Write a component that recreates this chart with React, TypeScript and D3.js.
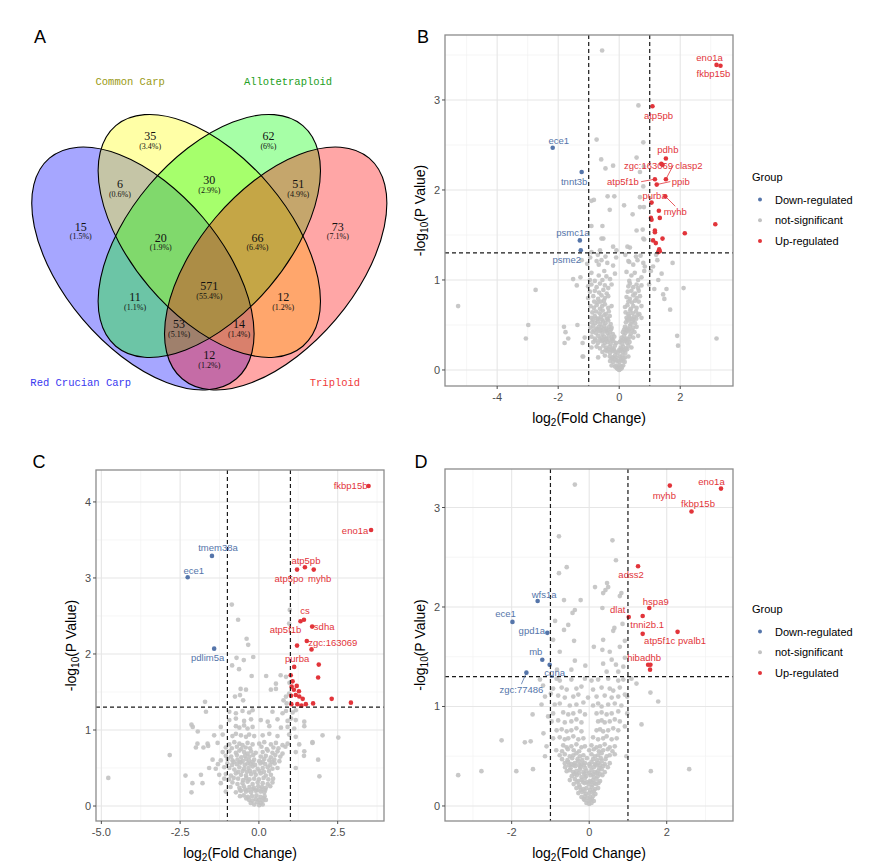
import * as d3 from "d3";

type Pt = [number, number];

const W = 881;
const H = 864;

// ---------------- Panel A: four-set Venn ----------------
const vennSets = ["Red Crucian Carp", "Common Carp", "Allotetraploid", "Triploid"];
const vennFills = ["#0000ff", "#ffff00", "#00ff00", "#ff0000"];
const vennSetColors = ["#3838f0", "#9a9a14", "#23a023", "#f03a3a"];
const vennCounts = [35, 62, 6, 30, 51, 15, 20, 66, 73, 571, 11, 12, 53, 14, 12];
const vennPercents = [
  "3.4%", "6%", "0.6%", "2.9%", "4.9%", "1.5%", "1.9%", "6.4%",
  "7.1%", "55.4%", "1.1%", "1.2%", "5.1%", "1.4%", "1.2%",
];

// ellipse geometry in unit space
const VENN_ELL = [
  { cx: 0.3373, cy: 0.4763, rot: 49.7 },
  { cx: 0.5, cy: 0.556, rot: 49.7 },
  { cx: 0.5, cy: 0.556, rot: -49.7 },
  { cx: 0.6627, cy: 0.4763, rot: -49.7 },
];
const VENN_A = 0.3544;
const VENN_B = 0.1931;
const VENN_REGION_POS: Pt[] = [
  [0.355, 0.801], [0.645, 0.801], [0.281, 0.683], [0.5, 0.692], [0.718, 0.683],
  [0.185, 0.579], [0.381, 0.552], [0.618, 0.552], [0.815, 0.579], [0.5, 0.434],
  [0.318, 0.407], [0.681, 0.407], [0.426, 0.339], [0.573, 0.339], [0.5, 0.263],
];
const VENN_SET_POS: Pt[] = [[0.185, 0.196], [0.306, 0.933], [0.693, 0.933], [0.808, 0.196]];

// ---------------- Panel B ----------------
const bGray: Pt[] = [
  [-5.28, 0.71], [-2.74, 0.89], [-2.98, 0.5], [-3.06, 0.35], [-1.81, 0.48], [-1.76, 0.42], [-1.67, 0.35],
  [-1.79, 0.3], [-1.51, 1.01], [-1.27, 1.03], [-1.39, 0.94], [-1.37, 0.5], [-1.23, 1.22], [-1.2, 0.3],
  [-1.2, 0.15], [2.11, 0.91], [1.9, 0.38], [1.93, 0.27], [3.19, 0.35], [1.75, 1.19], [1.67, 0.67],
  [1.55, 0.9], [1.44, 0.84], [1.48, 0.79], [1.39, 1.07], [1.28, 1.0], [1.25, 1.22], [1.21, 1.28],
  [1.11, 1.15], [1.04, 1.1], [1.15, 0.9], [0.98, 0.95],
  [-0.56, 3.55], [0.63, 2.94], [-0.74, 2.56], [0.79, 2.53], [0.57, 2.36], [-0.59, 2.34], [-0.2, 2.27],
  [-0.45, 2.24], [0.81, 2.26], [0.68, 2.2], [0.79, 2.04], [-0.83, 1.89], [-0.91, 1.88], [-0.38, 1.93],
  [-0.16, 1.93], [0.68, 1.92], [0.16, 1.83], [0.68, 1.81], [0.81, 1.81], [-0.31, 1.78], [0.44, 1.73],
  [-0.91, 1.6], [-0.55, 1.6], [0.57, 1.55], [0.77, 1.56], [0.79, 1.46], [-0.52, 1.46], [0.35, 1.36],
  [-0.63, 1.33], [-0.09, 1.33], [-0.58, 1.46], [0.82, 1.45], [0.27, 1.37], [-0.2, 1.37], [0.3, 1.21],
  [-0.91, 1.31],
  [-0.95, 1.25], [-0.7, 1.28], [-0.45, 1.26], [-0.1, 1.25], [0.2, 1.28], [0.55, 1.26], [0.7, 1.27],
  [-1.05, 1.18], [-0.74, 1.21], [-0.67, 1.17], [-0.58, 1.22], [-0.39, 1.19], [-0.2, 1.16], [0.33, 1.2],
  [0.46, 1.17], [0.6, 1.22], [0.79, 1.19], [0.84, 1.15],
  [-0.91, 1.08], [-0.67, 1.05], [-0.49, 1.1], [-0.42, 1.04], [-0.14, 1.07], [0.24, 1.09], [0.4, 1.05],
  [0.51, 1.08], [0.73, 1.03], [0.82, 1.1],
  [-0.96, 1.0], [-0.8, 0.99], [-0.55, 1.0], [-0.3, 1.01], [0.33, 0.99], [0.62, 1.0],
  [-1.02, 0.93], [-0.91, 0.95], [-0.74, 0.92], [-0.63, 0.96], [-0.47, 0.94], [-0.36, 0.91], [-0.25, 0.95],
  [0.3, 0.93], [0.35, 0.96], [0.46, 0.92], [0.57, 0.95], [0.62, 0.91], [0.73, 0.94],
  [-0.96, 0.87], [-0.8, 0.88], [-0.66, 0.86], [-0.52, 0.89], [-0.41, 0.85], [0.28, 0.87], [0.4, 0.88],
  [0.52, 0.85], [0.64, 0.88],
  [-1.02, 0.8], [-0.85, 0.82], [-0.69, 0.79], [-0.58, 0.83], [-0.47, 0.8], [-0.36, 0.82], [0.24, 0.81],
  [0.35, 0.79], [0.46, 0.83], [0.57, 0.8], [0.68, 0.82],
  [-0.82, 0.76], [-0.7, 0.75], [-0.6, 0.76], [-0.5, 0.77], [0.3, 0.76], [0.42, 0.75], [0.52, 0.77], [0.64, 0.76],
  [-0.94, 0.71], [-0.83, 0.69], [-0.74, 0.72], [-0.63, 0.68], [-0.56, 0.71], [-0.47, 0.73], [-0.36, 0.69],
  [-0.25, 0.71], [0.19, 0.7], [0.27, 0.72], [0.38, 0.68], [0.46, 0.71], [0.57, 0.69], [0.73, 0.71],
  [-0.88, 0.64], [-0.76, 0.65], [-0.64, 0.63], [-0.54, 0.66], [-0.44, 0.62], [-0.34, 0.65], [0.21, 0.64],
  [0.3, 0.62], [0.36, 0.66], [0.44, 0.63], [0.55, 0.65], [0.66, 0.62],
  [-0.91, 0.58], [-0.8, 0.6], [-0.69, 0.57], [-0.6, 0.59], [-0.49, 0.61], [-0.38, 0.57], [-0.31, 0.6],
  [0.24, 0.58], [0.32, 0.6], [0.4, 0.57], [0.49, 0.59], [0.6, 0.61], [0.73, 0.58],
  [-0.86, 0.56], [-0.74, 0.57], [-0.57, 0.56], [-0.41, 0.57], [0.27, 0.56], [0.35, 0.57], [0.47, 0.56], [0.56, 0.57],
  [-0.9, 0.53], [-0.78, 0.52], [-0.7, 0.54], [-0.62, 0.51], [-0.53, 0.54], [-0.45, 0.52], [-0.36, 0.55],
  [-0.28, 0.51], [0.22, 0.53], [0.3, 0.55], [0.38, 0.51], [0.43, 0.54], [0.52, 0.52],
  [-0.94, 0.47], [-0.85, 0.49], [-0.74, 0.46], [-0.67, 0.48], [-0.58, 0.47], [-0.49, 0.49], [-0.42, 0.46],
  [-0.33, 0.48], [-0.25, 0.47], [0.19, 0.48], [0.27, 0.46], [0.35, 0.49], [0.46, 0.47], [0.57, 0.48],
  [-0.83, 0.44], [-0.71, 0.45], [-0.6, 0.44], [-0.51, 0.45], [-0.4, 0.44], [-0.27, 0.45], [0.16, 0.45],
  [0.24, 0.44], [0.33, 0.45], [0.42, 0.44],
  [-0.88, 0.42], [-0.76, 0.41], [-0.64, 0.43], [-0.55, 0.4], [-0.46, 0.43], [-0.38, 0.41], [-0.3, 0.42],
  [-0.21, 0.4], [0.12, 0.42], [0.2, 0.41], [0.28, 0.43], [0.38, 0.4], [0.5, 0.42],
  [-1.13, 0.36], [-0.91, 0.37], [-0.8, 0.35], [-0.69, 0.38], [-0.58, 0.36], [-0.49, 0.37], [-0.42, 0.35],
  [-0.34, 0.38], [-0.25, 0.36], [-0.16, 0.37], [0.08, 0.36], [0.16, 0.38], [0.24, 0.35], [0.35, 0.37],
  [0.46, 0.36], [0.62, 0.38],
  [-0.78, 0.33], [-0.64, 0.34], [-0.53, 0.33], [-0.44, 0.34], [-0.33, 0.33], [-0.23, 0.34], [0.06, 0.33],
  [0.14, 0.34], [0.22, 0.33], [0.3, 0.34],
  [-0.85, 0.31], [-0.7, 0.3], [-0.58, 0.32], [-0.47, 0.3], [-0.38, 0.31], [-0.28, 0.29], [-0.19, 0.32],
  [-0.1, 0.3], [0.02, 0.31], [0.1, 0.29], [0.18, 0.32], [0.26, 0.3], [0.34, 0.31],
  [-0.91, 0.25], [-0.74, 0.26], [-0.63, 0.24], [-0.52, 0.27], [-0.42, 0.25], [-0.31, 0.26], [-0.22, 0.24],
  [-0.14, 0.27], [0.05, 0.25], [0.13, 0.26], [0.22, 0.24], [0.3, 0.27], [0.4, 0.25],
  [-0.45, 0.22], [-0.35, 0.23], [-0.26, 0.22], [-0.17, 0.23], [0.0, 0.22], [0.08, 0.23], [0.16, 0.22], [0.26, 0.23],
  [-0.55, 0.2], [-0.4, 0.21], [-0.3, 0.19], [-0.2, 0.21], [-0.12, 0.2], [-0.05, 0.19], [0.04, 0.21],
  [0.12, 0.2], [0.2, 0.19],
  [-1.18, 0.15], [-0.69, 0.14], [-0.47, 0.16], [-0.31, 0.15], [-0.22, 0.14], [-0.14, 0.16], [-0.09, 0.14],
  [0.02, 0.15], [0.1, 0.16], [0.19, 0.14], [0.3, 0.15],
  [-0.25, 0.13], [-0.17, 0.12], [0.05, 0.12], [0.14, 0.13],
  [-0.3, 0.1], [-0.2, 0.09], [-0.12, 0.11], [-0.06, 0.1], [0.0, 0.09], [0.06, 0.11], [0.12, 0.1], [0.18, 0.09],
  [-0.25, 0.05], [-0.14, 0.04], [-0.09, 0.05], [-0.03, 0.03], [0.02, 0.05], [0.08, 0.04], [0.13, 0.05],
  [-0.08, 0.02], [-0.04, 0.01], [0.0, 0.0], [0.04, 0.01], [0.08, 0.02],
];
const bUp: Pt[] = [
  [3.19, 3.39], [3.32, 3.38], [1.09, 2.93], [1.53, 2.35], [1.42, 2.28], [1.38, 2.29], [1.53, 2.12],
  [1.17, 2.12], [1.23, 2.06], [1.06, 1.86], [1.51, 1.93], [1.3, 1.77], [1.04, 1.69], [1.06, 1.67],
  [1.33, 1.69], [3.15, 1.62], [2.15, 1.52], [1.17, 1.55], [1.17, 1.53], [1.42, 1.46], [1.11, 1.44],
  [1.2, 1.41], [1.31, 1.34], [1.28, 1.31], [1.33, 1.32],
];
const bDown: Pt[] = [[-2.18, 2.47], [-1.23, 2.2], [-1.29, 1.44], [-1.26, 1.33]];
const bGenes = [
  { gene: "eno1a", fc: 3.19, p: 3.39 }, { gene: "fkbp15b", fc: 3.32, p: 3.38 },
  { gene: "atp5pb", fc: 1.09, p: 2.93 }, { gene: "pdhb", fc: 1.53, p: 2.35 },
  { gene: "zgc:163069", fc: 1.42, p: 2.28 }, { gene: "clasp2", fc: 1.53, p: 2.12 },
  { gene: "atp5f1b", fc: 1.17, p: 2.12 }, { gene: "ppib", fc: 1.23, p: 2.06 },
  { gene: "purba", fc: 1.06, p: 1.86 }, { gene: "myhb", fc: 1.51, p: 1.93 },
  { gene: "ece1", fc: -2.18, p: 2.47 }, { gene: "tnnt3b", fc: -1.23, p: 2.2 },
  { gene: "psmc1a", fc: -1.29, p: 1.44 }, { gene: "psme2", fc: -1.26, p: 1.33 },
];
// label offsets in pixels [dx, dy, segment]
const bNudge: Record<string, [number, number, boolean]> = {
  eno1a: [-7, -7, false], fkbp15b: [-7, 8, false], atp5pb: [6, 9, false], pdhb: [2, -8.5, false],
  "zgc:163069": [-14, 1, false], clasp2: [23, -14, true], atp5f1b: [-32, 2.5, true], ppib: [24, -3, true],
  purba: [3, -7, false], myhb: [10, 15, true], ece1: [6, -7, false], tnnt3b: [-7.5, 9.5, false],
  psmc1a: [-7, -8, false], psme2: [-14, 9.5, false],
};

// ---------------- Panel C ----------------
const cGray: Pt[] = [
  [-0.86, 2.65], [-0.66, 2.45], [-0.39, 2.2], [-0.34, 2.12], [0.98, 2.58], [0.96, 2.4], [-0.71, 1.95],
  [-0.48, 1.92], [-0.18, 1.96], [-0.85, 1.85], [-0.63, 1.8], [-0.23, 1.71], [0.23, 1.71], [0.69, 1.72],
  [0.86, 1.7], [0.54, 1.61], [0.38, 1.53], [0.54, 1.54], [-0.58, 1.54], [-0.41, 1.53], [-0.6, 1.46],
  [-0.76, 1.44], [-0.5, 1.39], [-1.71, 1.37], [0.86, 1.44], [0.88, 1.35], [0.78, 1.39], [0.96, 1.48],
  [0.97, 1.62],
  [-2.83, 0.67], [-4.78, 0.37], [1.92, 0.39], [1.7, 0.83], [2.02, 0.93], [2.52, 0.9], [1.88, 0.61],
  [1.43, 0.66], [-2.33, 0.4], [-2.14, 0.18], [-2.14, 1.07], [-1.94, 0.98], [-1.61, 0.79], [-2.0, 0.77],
  [-1.76, 0.77], [-2.1, 1.04], [-1.95, 0.82], [-1.68, 1.24], [-1.84, 0.41], [-2.11, 0.3], [-1.79, 0.3],
  [-0.94, 1.24], [-0.73, 1.22], [-0.52, 1.25], [-0.31, 1.23], [-0.2, 1.26], [0.43, 1.24], [0.75, 1.22],
  [0.86, 1.25], [1.07, 1.23], [1.17, 1.26],
  [-0.94, 1.13], [-0.73, 1.15], [-0.47, 1.12], [-0.25, 1.14], [0.06, 1.13], [0.28, 1.11], [0.59, 1.14],
  [0.91, 1.12], [1.02, 1.15], [1.17, 1.13], [1.44, 1.11],
  [-1.21, 1.04], [-0.73, 1.05], [-0.62, 1.03], [-0.47, 1.06], [-0.36, 1.02], [-0.2, 1.04], [0.33, 1.05],
  [0.7, 1.03], [0.91, 1.04], [1.12, 1.02], [1.44, 1.05],
  [-1.42, 0.93], [-1.15, 0.94], [-0.84, 0.92], [-0.73, 0.95], [-0.57, 0.93], [-0.41, 0.91], [-0.31, 0.94],
  [-0.15, 0.92], [0.12, 0.93], [0.33, 0.95], [0.59, 0.92], [0.96, 0.94], [1.17, 0.91],
  [-1.63, 0.82], [-1.31, 0.83], [-0.94, 0.81], [-0.78, 0.84], [-0.62, 0.82], [-0.52, 0.8], [-0.36, 0.83],
  [-0.2, 0.81], [0.01, 0.82], [0.17, 0.84], [0.38, 0.81], [0.54, 0.83], [0.75, 0.8], [0.91, 0.82],
  [1.28, 0.81], [1.7, 0.84],
  [-1.05, 0.77], [-0.86, 0.76], [-0.7, 0.78], [-0.56, 0.75], [-0.42, 0.77], [-0.28, 0.76], [0.08, 0.78],
  [0.25, 0.75], [0.46, 0.77], [0.62, 0.76], [0.84, 0.78],
  [-1.15, 0.71], [-0.94, 0.72], [-0.73, 0.7], [-0.62, 0.73], [-0.47, 0.71], [-0.36, 0.69], [-0.25, 0.72],
  [-0.1, 0.7], [0.12, 0.71], [0.28, 0.73], [0.43, 0.7], [0.59, 0.72], [0.75, 0.69], [1.17, 0.71], [1.44, 0.72],
  [-1.05, 0.66], [-0.88, 0.65], [-0.7, 0.67], [-0.56, 0.64], [-0.44, 0.66], [-0.3, 0.65], [-0.18, 0.67],
  [0.06, 0.65], [0.22, 0.66], [0.38, 0.64], [0.52, 0.67], [0.68, 0.65],
  [-1.47, 0.61], [-1.21, 0.6], [-0.99, 0.62], [-0.84, 0.6], [-0.68, 0.61], [-0.52, 0.59], [-0.41, 0.62],
  [-0.31, 0.6], [-0.15, 0.61], [0.01, 0.59], [0.17, 0.62], [0.33, 0.6], [0.49, 0.61], [0.65, 0.59],
  [-0.8, 0.58], [-0.6, 0.58], [-0.2, 0.58], [0.12, 0.58], [0.42, 0.58],
  [-1.3, 0.55], [-1.0, 0.56], [-0.85, 0.54], [-0.7, 0.55], [-0.58, 0.57], [-0.45, 0.54], [-0.36, 0.56],
  [-0.26, 0.55], [-0.12, 0.54], [0.05, 0.56], [0.2, 0.55], [0.36, 0.54], [0.5, 0.56],
  [-1.58, 0.5], [-1.37, 0.49], [-1.1, 0.51], [-0.94, 0.5], [-0.78, 0.48], [-0.62, 0.51], [-0.47, 0.49],
  [-0.33, 0.5], [-0.2, 0.52], [-0.04, 0.49], [0.12, 0.5], [0.28, 0.51], [0.43, 0.49], [0.59, 0.5], [1.17, 0.5],
  [-0.66, 0.45], [-0.52, 0.46], [-0.38, 0.45], [-0.28, 0.46], [-0.14, 0.45], [0.02, 0.46], [0.16, 0.45], [0.32, 0.46],
  [-1.26, 0.41], [-1.05, 0.42], [-0.89, 0.4], [-0.73, 0.43], [-0.57, 0.41], [-0.41, 0.4], [-0.25, 0.42],
  [-0.1, 0.41], [0.06, 0.43], [0.22, 0.4], [0.38, 0.41],
  [-1.1, 0.36], [-0.95, 0.35], [-0.8, 0.37], [-0.66, 0.36], [-0.5, 0.34], [-0.4, 0.37], [-0.3, 0.35],
  [-0.15, 0.36], [0.0, 0.35], [0.15, 0.37], [0.3, 0.35], [0.45, 0.36],
  [-1.21, 0.3], [-0.84, 0.31], [-0.68, 0.29], [-0.52, 0.3], [-0.36, 0.32], [-0.2, 0.29], [-0.04, 0.31],
  [0.12, 0.3], [0.28, 0.29], [0.43, 0.31],
  [-0.9, 0.25], [-0.62, 0.24], [-0.48, 0.26], [-0.3, 0.25], [-0.16, 0.24], [-0.02, 0.26], [0.1, 0.25],
  [0.22, 0.24], [0.36, 0.26],
  [-0.6, 0.21], [-0.44, 0.22], [-0.33, 0.21], [-0.2, 0.22], [-0.05, 0.21], [0.08, 0.22], [0.2, 0.21],
  [-1.05, 0.19], [-0.73, 0.18], [-0.57, 0.2], [-0.41, 0.19], [-0.25, 0.18], [-0.1, 0.2], [0.06, 0.19], [0.17, 0.18],
  [-0.6, 0.13], [-0.48, 0.14], [-0.35, 0.12], [-0.22, 0.13], [-0.08, 0.14], [0.05, 0.12], [0.18, 0.13],
  [-0.4, 0.1], [0.15, 0.1],
  [-0.31, 0.08], [-0.2, 0.07], [-0.1, 0.09], [0.01, 0.08], [0.12, 0.07], [0.22, 0.08],
  [-0.26, 0.04], [-0.05, 0.05], [0.06, 0.04],
  [-0.15, 0.02], [0.01, 0.01], [0.12, 0.02],
];
const cUp: Pt[] = [
  [3.48, 4.21], [3.56, 3.63], [1.21, 3.11], [1.46, 3.14], [1.74, 3.11], [1.32, 2.43], [1.43, 2.45],
  [1.69, 2.36], [1.21, 2.11], [1.52, 2.17], [1.67, 2.06], [1.12, 1.83], [1.9, 1.86], [1.88, 1.69],
  [1.01, 1.72], [1.07, 1.64], [1.04, 1.57], [1.2, 1.58], [1.11, 1.53], [1.27, 1.51], [1.02, 1.45],
  [1.17, 1.46], [1.28, 1.44], [1.39, 1.41], [1.22, 1.34], [1.35, 1.32], [1.49, 1.34], [1.72, 1.35],
  [2.31, 1.41], [2.92, 1.36], [1.03, 1.34],
];
const cDown: Pt[] = [[-1.49, 3.29], [-2.26, 3.01], [-1.42, 2.07]];
const cGenes = [
  { gene: "fkbp15b", fc: 3.48, p: 4.21 }, { gene: "eno1a", fc: 3.56, p: 3.63 },
  { gene: "tmem38a", fc: -1.49, p: 3.29 }, { gene: "ece1", fc: -2.26, p: 3.01 },
  { gene: "pdlim5a", fc: -1.42, p: 2.07 }, { gene: "atp5pb", fc: 1.46, p: 3.14 },
  { gene: "atp5po", fc: 1.21, p: 3.11 }, { gene: "myhb", fc: 1.74, p: 3.11 },
  { gene: "cs", fc: 1.43, p: 2.45 }, { gene: "sdha", fc: 1.69, p: 2.36 },
  { gene: "atp5f1b", fc: 1.32, p: 2.43 }, { gene: "zgc:163069", fc: 1.52, p: 2.17 },
  { gene: "purba", fc: 1.12, p: 1.83 },
];
const cNudge: Record<string, [number, number, boolean]> = {
  fkbp15b: [-18, 0, false], eno1a: [-16, 0, false], tmem38a: [6, -8, false], ece1: [6, -7, false],
  pdlim5a: [-6.5, 8.5, false], atp5pb: [1, -6.5, false], atp5po: [-8, 8.5, false], myhb: [6, 8.5, false],
  cs: [1, -9, false], sdha: [12, 0, false], atp5f1b: [-15, 8.5, false], "zgc:163069": [26, 1, false],
  purba: [3, -8.5, false],
};

// ---------------- Panel D ----------------
const dGray: Pt[] = [
  [-0.37, 3.23], [-0.78, 2.71], [0.6, 2.67], [0.69, 2.47], [-0.58, 2.4], [-0.78, 2.34], [0.15, 2.2],
  [0.46, 2.24], [0.49, 2.2], [0.42, 2.17], [0.36, 2.14], [0.83, 2.14], [0.79, 2.11], [-0.65, 2.07],
  [-0.22, 2.07], [0.34, 1.99], [-0.37, 1.97], [-0.43, 1.94], [0.86, 1.83], [0.65, 1.79], [0.62, 1.76],
  [-0.88, 1.86], [-0.54, 1.82], [-0.65, 1.77], [-0.93, 1.67], [-0.39, 1.66], [0.36, 1.67], [0.92, 1.66],
  [-0.76, 1.55], [0.12, 1.6], [0.34, 1.57], [0.53, 1.55], [0.79, 1.6], [0.92, 1.49], [-0.37, 1.46],
  [-0.1, 1.41], [0.36, 1.43], [0.58, 1.47], [0.69, 1.42], [0.88, 1.4], [-0.83, 1.37], [-0.46, 1.37],
  [0.45, 1.35], [0.75, 1.35],
  [-3.38, 0.31], [-2.78, 0.35], [-2.26, 0.66], [-1.88, 0.35], [-1.66, 0.64], [-1.51, 0.65], [-1.46, 0.92],
  [-1.45, 0.37], [-1.23, 1.02], [-1.18, 0.73], [-1.14, 0.5], [-0.99, 1.13], [-1.06, 0.9], [-1.19, 1.21],
  [1.59, 0.35], [2.58, 0.37], [1.78, 1.05], [1.58, 1.14], [1.35, 0.82], [1.22, 1.23], [1.09, 1.28],
  [0.98, 1.1], [0.98, 0.93], [0.92, 0.8], [0.96, 0.5],
  [-1.27, 1.27], [-0.84, 1.28], [-0.76, 1.26], [-0.46, 1.27], [-0.11, 1.28], [0.06, 1.26], [0.23, 1.27],
  [0.49, 1.28], [0.75, 1.26], [0.88, 1.27],
  [-0.93, 1.18], [-0.71, 1.19], [-0.58, 1.17], [-0.33, 1.18], [-0.2, 1.2], [0.1, 1.17], [0.32, 1.19],
  [0.53, 1.18], [0.62, 1.16], [0.79, 1.19],
  [-1.14, 1.1], [-0.8, 1.11], [-0.63, 1.09], [-0.41, 1.1], [-0.28, 1.12], [-0.03, 1.09], [0.19, 1.1],
  [0.4, 1.11], [0.58, 1.09], [0.75, 1.1], [0.92, 1.12],
  [-0.89, 1.02], [-0.76, 1.03], [-0.5, 1.01], [-0.33, 1.02], [-0.15, 1.04], [0.1, 1.01], [0.23, 1.03],
  [0.32, 1.0], [0.49, 1.02], [0.66, 1.03], [0.83, 1.01],
  [-0.93, 0.93], [-0.67, 0.94], [-0.54, 0.92], [-0.41, 0.93], [-0.24, 0.95], [-0.11, 0.92], [0.19, 0.93],
  [0.32, 0.94], [0.45, 0.92], [0.58, 0.93], [0.75, 0.95],
  [-0.97, 0.85], [-0.8, 0.86], [-0.63, 0.84], [-0.46, 0.85], [-0.33, 0.87], [-0.2, 0.84], [0.23, 0.85],
  [0.32, 0.86], [0.4, 0.84], [0.53, 0.85], [0.66, 0.87], [0.79, 0.85],
  [-0.84, 0.76], [-0.71, 0.77], [-0.58, 0.75], [-0.46, 0.76], [-0.33, 0.78], [-0.2, 0.75], [0.19, 0.76],
  [0.28, 0.77], [0.36, 0.75], [0.49, 0.76], [0.62, 0.78], [0.75, 0.76],
  [-0.93, 0.68], [-0.76, 0.69], [-0.63, 0.67], [-0.54, 0.68], [-0.41, 0.7], [-0.28, 0.67], [-0.15, 0.68],
  [0.1, 0.69], [0.23, 0.67], [0.36, 0.68], [0.45, 0.7], [0.58, 0.67], [0.71, 0.68],
  [-1.1, 0.6], [-0.67, 0.61], [-0.58, 0.59], [-0.46, 0.6], [-0.33, 0.62], [-0.2, 0.59], [-0.11, 0.6],
  [0.06, 0.61], [0.19, 0.59], [0.28, 0.6], [0.4, 0.62], [0.53, 0.59], [0.66, 0.6],
  [-0.85, 0.56], [-0.7, 0.55], [-0.55, 0.57], [-0.4, 0.56], [-0.26, 0.55], [0.0, 0.56], [0.12, 0.57],
  [0.25, 0.55], [0.36, 0.56], [0.48, 0.57], [0.6, 0.55],
  [-0.76, 0.51], [-0.63, 0.52], [-0.5, 0.5], [-0.41, 0.51], [-0.33, 0.53], [-0.24, 0.5], [-0.15, 0.51],
  [0.06, 0.52], [0.15, 0.5], [0.23, 0.51], [0.32, 0.53], [0.45, 0.5], [0.53, 0.51], [0.66, 0.52],
  [-0.7, 0.47], [-0.56, 0.46], [-0.44, 0.48], [-0.3, 0.47], [-0.18, 0.46], [-0.06, 0.48], [0.1, 0.47],
  [0.2, 0.46], [0.3, 0.48], [0.42, 0.47],
  [-0.63, 0.43], [-0.54, 0.44], [-0.46, 0.42], [-0.37, 0.43], [-0.28, 0.45], [-0.2, 0.42], [-0.11, 0.43],
  [0.06, 0.44], [0.15, 0.42], [0.23, 0.43], [0.32, 0.45], [0.4, 0.42], [0.53, 0.43],
  [-0.52, 0.41], [-0.4, 0.41], [-0.26, 0.41], [-0.14, 0.41], [0.0, 0.42], [0.18, 0.41], [0.28, 0.41],
  [-0.62, 0.39], [-0.48, 0.38], [-0.36, 0.4], [-0.22, 0.39], [-0.1, 0.38], [0.02, 0.4], [0.12, 0.39],
  [0.26, 0.38], [0.36, 0.4], [0.48, 0.39],
  [-0.58, 0.35], [-0.5, 0.36], [-0.41, 0.34], [-0.33, 0.35], [-0.24, 0.37], [-0.15, 0.34], [-0.07, 0.35],
  [0.06, 0.36], [0.15, 0.34], [0.23, 0.35], [0.32, 0.37], [0.4, 0.34],
  [-0.38, 0.32], [-0.26, 0.33], [-0.12, 0.32], [0.0, 0.33], [0.1, 0.32], [0.2, 0.33], [0.28, 0.32],
  [-0.45, 0.3], [-0.32, 0.31], [-0.2, 0.29], [-0.08, 0.3], [0.04, 0.31], [0.12, 0.29], [0.22, 0.3], [0.34, 0.31],
  [-0.5, 0.26], [-0.37, 0.27], [-0.28, 0.25], [-0.2, 0.26], [-0.11, 0.28], [0.02, 0.25], [0.1, 0.26],
  [0.19, 0.27], [0.28, 0.25],
  [-0.32, 0.24], [-0.16, 0.24], [-0.06, 0.24], [0.06, 0.24], [0.14, 0.23], [0.24, 0.23],
  [-0.4, 0.22], [-0.26, 0.21], [-0.12, 0.23], [-0.02, 0.22], [0.08, 0.21], [0.18, 0.22],
  [-0.33, 0.18], [-0.24, 0.19], [-0.15, 0.17], [-0.07, 0.18], [0.06, 0.19], [0.15, 0.17], [0.23, 0.18],
  [-0.22, 0.16], [-0.12, 0.15], [0.02, 0.16], [0.12, 0.15],
  [-0.28, 0.13], [-0.18, 0.14], [-0.08, 0.12], [0.0, 0.13], [0.08, 0.14], [0.16, 0.12],
  [-0.2, 0.09], [-0.11, 0.1], [-0.04, 0.08], [0.02, 0.09], [0.1, 0.1],
  [-0.14, 0.07], [0.07, 0.07],
  [-0.12, 0.06], [-0.02, 0.05], [0.04, 0.06], [0.12, 0.05],
  [-0.07, 0.03], [0.0, 0.02], [0.06, 0.03],
];
const dUp: Pt[] = [
  [3.4, 3.19], [2.08, 3.22], [2.64, 2.96], [1.26, 2.41], [1.55, 1.99], [1.02, 1.9], [1.38, 1.91],
  [1.38, 1.73], [2.28, 1.75], [1.52, 1.42], [1.58, 1.42], [1.57, 1.37],
];
const dDown: Pt[] = [[-1.33, 2.06], [-1.98, 1.85], [-1.08, 1.74], [-1.21, 1.47], [-1.02, 1.42], [-1.62, 1.34]];
const dGenes = [
  { gene: "eno1a", fc: 3.4, p: 3.19 }, { gene: "myhb", fc: 2.08, p: 3.22 },
  { gene: "fkbp15b", fc: 2.64, p: 2.96 }, { gene: "adss2", fc: 1.26, p: 2.41 },
  { gene: "hspa9", fc: 1.55, p: 1.99 }, { gene: "dlat", fc: 1.02, p: 1.9 },
  { gene: "tnni2b.1", fc: 1.38, p: 1.91 }, { gene: "atp5f1c", fc: 1.38, p: 1.73 },
  { gene: "pvalb1", fc: 2.28, p: 1.75 }, { gene: "hibadhb", fc: 1.52, p: 1.42 },
  { gene: "wfs1a", fc: -1.33, p: 2.06 }, { gene: "ece1", fc: -1.98, p: 1.85 },
  { gene: "gpd1a", fc: -1.08, p: 1.74 }, { gene: "mb", fc: -1.21, p: 1.47 },
  { gene: "cgna", fc: -1.02, p: 1.42 }, { gene: "zgc:77486", fc: -1.62, p: 1.34 },
];
const dNudge: Record<string, [number, number, boolean]> = {
  eno1a: [-9.5, -7, false], myhb: [-5.5, 9.5, false], fkbp15b: [6.5, -7.5, false], adss2: [-7, 8, false],
  hspa9: [6.5, -6.5, false], dlat: [-11, -7, false], "tnni2b.1": [4.5, 8.5, false], atp5f1c: [17, 7, false],
  pvalb1: [14.5, 9, false], hibadhb: [-4, -7.5, false], wfs1a: [6.5, -7, false], ece1: [-7, -8, false],
  gpd1a: [-15.5, -2, false], mb: [-6.5, -8, false], cgna: [5, 7.5, false], "zgc:77486": [-5, 16.5, true],
};

const legendGroups = ["Down-regulated", "not-significant", "Up-regulated"];

const GRAY = "#c2c2c2";
const BLUE = "#5575aa";
const RED = "#e2343a";
const SANS = "'Liberation Sans', Arial, sans-serif";

type Panel = {
  frame: { left: number; right: number; top: number; bottom: number };
  xDomain: [number, number];
  yDomain: [number, number];
  xTicks: number[];
  xMinor: number[];
  yTicks: number[];
  yMinor: number[];
  xFmt: (v: number) => string;
  gray: Pt[];
  up: Pt[];
  down: Pt[];
  genes: { gene: string; fc: number; p: number }[];
  nudge: Record<string, [number, number, boolean]>;
  legend?: { x: number; y: number };
};

function Volcano({ p }: { p: Panel }) {
  const { left, right, top, bottom } = p.frame;
  const x = d3.scaleLinear().domain(p.xDomain).range([left, right]);
  const y = d3.scaleLinear().domain(p.yDomain).range([bottom, top]);
  const cxm = (left + right) / 2;
  const cym = (top + bottom) / 2;
  const cutoff = -Math.log10(0.05);
  return (
    <g fontFamily={SANS}>
      {p.xMinor.map((v) => (
        <line key={`xm${v}`} x1={x(v)} x2={x(v)} y1={top} y2={bottom} stroke="#f2f2f2" strokeWidth={0.7} />
      ))}
      {p.yMinor.map((v) => (
        <line key={`ym${v}`} x1={left} x2={right} y1={y(v)} y2={y(v)} stroke="#f2f2f2" strokeWidth={0.7} />
      ))}
      {p.xTicks.map((v) => (
        <line key={`xg${v}`} x1={x(v)} x2={x(v)} y1={top} y2={bottom} stroke="#e6e6e6" strokeWidth={1.1} />
      ))}
      {p.yTicks.map((v) => (
        <line key={`yg${v}`} x1={left} x2={right} y1={y(v)} y2={y(v)} stroke="#e6e6e6" strokeWidth={1.1} />
      ))}
      {p.gray.map((d, i) => (
        <circle key={`g${i}`} cx={x(d[0])} cy={y(d[1])} r={2.35} fill={GRAY} fillOpacity={0.9} />
      ))}
      {p.down.map((d, i) => (
        <circle key={`d${i}`} cx={x(d[0])} cy={y(d[1])} r={2.3} fill={BLUE} />
      ))}
      {p.up.map((d, i) => (
        <circle key={`u${i}`} cx={x(d[0])} cy={y(d[1])} r={2.3} fill={RED} />
      ))}
      {[-1, 1].map((v) => (
        <line key={`v${v}`} x1={x(v)} x2={x(v)} y1={top} y2={bottom} stroke="#1a1a1a" strokeWidth={1.2} strokeDasharray="4,3" />
      ))}
      <line x1={left} x2={right} y1={y(cutoff)} y2={y(cutoff)} stroke="#1a1a1a" strokeWidth={1.2} strokeDasharray="4,3" />
      {p.genes.map((g) => {
        const px = x(g.fc);
        const py = y(g.p);
        const [dx, dy, seg] = p.nudge[g.gene] ?? [0, -8, false];
        const lx = px + dx;
        const ly = py + dy;
        const col = g.fc > 0 ? RED : BLUE;
        const hw = g.gene.length * 2.6;
        let ex = lx;
        let ey = ly;
        if (Math.abs(dx) > hw) ex = lx - Math.sign(dx) * hw;
        else ey = ly - Math.sign(dy) * 5;
        return (
          <g key={g.gene}>
            {seg && <line x1={px} y1={py} x2={ex} y2={ey} stroke={col} strokeWidth={0.8} />}
            <text x={lx} y={ly} fontSize={9.5} fill={col} textAnchor="middle" dominantBaseline="central">
              {g.gene}
            </text>
          </g>
        );
      })}
      <rect x={left} y={top} width={right - left} height={bottom - top} fill="none" stroke="#8c8c8c" strokeWidth={1.3} />
      {p.xTicks.map((v) => (
        <g key={`xt${v}`}>
          <line x1={x(v)} x2={x(v)} y1={bottom} y2={bottom + 3} stroke="#4d4d4d" />
          <text x={x(v)} y={bottom + 11} fontSize={11} fill="#4d4d4d" textAnchor="middle" dominantBaseline="central">
            {p.xFmt(v)}
          </text>
        </g>
      ))}
      {p.yTicks.map((v) => (
        <g key={`yt${v}`}>
          <line x1={left - 3} x2={left} y1={y(v)} y2={y(v)} stroke="#4d4d4d" />
          <text x={left - 5} y={y(v)} fontSize={11} fill="#4d4d4d" textAnchor="end" dominantBaseline="central">
            {v}
          </text>
        </g>
      ))}
      <text x={cxm} y={bottom + 32} fontSize={14} fill="#000" textAnchor="middle" dominantBaseline="central">
        log<tspan fontSize={10} dy={4}>2</tspan>
        <tspan dy={-4}>(Fold Change)</tspan>
      </text>
      <text transform={`translate(${left - 25},${cym}) rotate(-90)`} fontSize={14} fill="#000" textAnchor="middle" dominantBaseline="central">
        -log<tspan fontSize={10} dy={4}>10</tspan>
        <tspan dy={-4}>(P Value)</tspan>
      </text>
      {p.legend && (
        <g>
          <text x={p.legend.x} y={p.legend.y} fontSize={11} fill="#000" dominantBaseline="central">
            Group
          </text>
          {legendGroups.map((name, i) => (
            <g key={name}>
              <circle cx={p.legend!.x + 8} cy={p.legend!.y + 22.5 + i * 20.7} r={2} fill={[BLUE, GRAY, RED][i]} />
              <text x={p.legend!.x + 23} y={p.legend!.y + 22.5 + i * 20.7} fontSize={11} fill="#000" dominantBaseline="central">
                {name}
              </text>
            </g>
          ))}
        </g>
      )}
    </g>
  );
}

function Venn() {
  const vx = d3.scaleLinear().domain([0, 1]).range([5.3, 413.3]);
  const vy = d3.scaleLinear().domain([0, 1]).range([462.8, 54.8]);
  const rx = vx(VENN_A) - vx(0);
  const ry = vx(VENN_B) - vx(0);
  return (
    <g>
      {VENN_ELL.map((e, i) => (
        <ellipse
          key={`f${i}`}
          cx={0}
          cy={0}
          rx={rx}
          ry={ry}
          transform={`translate(${vx(e.cx)},${vy(e.cy)}) rotate(${e.rot})`}
          fill={vennFills[i]}
          fillOpacity={0.35}
        />
      ))}
      {VENN_ELL.map((e, i) => (
        <ellipse
          key={`o${i}`}
          cx={0}
          cy={0}
          rx={rx}
          ry={ry}
          transform={`translate(${vx(e.cx)},${vy(e.cy)}) rotate(${e.rot})`}
          fill="none"
          stroke="#000"
          strokeWidth={1.1}
        />
      ))}
      {vennCounts.map((c, i) => {
        const [u, v] = VENN_REGION_POS[i];
        return (
          <g key={`n${i}`} fontFamily="'Liberation Serif', 'Times New Roman', serif" fill="#111" textAnchor="middle">
            <text x={vx(u)} y={vy(v)} fontSize={12} dominantBaseline="central">
              {c}
            </text>
            <text x={vx(u)} y={vy(v) + 10.3} fontSize={8} dominantBaseline="central">
              ({vennPercents[i]})
            </text>
          </g>
        );
      })}
      {vennSets.map((s, i) => (
        <text
          key={s}
          x={vx(VENN_SET_POS[i][0])}
          y={vy(VENN_SET_POS[i][1])}
          fontFamily="'Liberation Mono', 'DejaVu Sans Mono', monospace"
          fontSize={10.5}
          fill={vennSetColors[i]}
          textAnchor="middle"
          dominantBaseline="central"
        >
          {s}
        </text>
      ))}
    </g>
  );
}

export default function App() {
  const one = (v: number) => v.toFixed(1);
  const int = (v: number) => `${v}`;
  const panels: Panel[] = [
    {
      frame: { left: 445, right: 733, top: 35, bottom: 386 },
      xDomain: [-5.71, 3.73],
      yDomain: [-0.178, 3.722],
      xTicks: [-4, -2, 0, 2],
      xMinor: [-5, -3, -1, 1, 3],
      yTicks: [0, 1, 2, 3],
      yMinor: [0.5, 1.5, 2.5, 3.5],
      xFmt: int,
      gray: bGray,
      up: bUp,
      down: bDown,
      genes: bGenes,
      nudge: bNudge,
      legend: { x: 752, y: 177 },
    },
    {
      frame: { left: 96, right: 384, top: 470, bottom: 821 },
      xDomain: [-5.17, 3.97],
      yDomain: [-0.197, 4.42],
      xTicks: [-5, -2.5, 0, 2.5],
      xMinor: [-3.75, -1.25, 1.25, 3.75],
      yTicks: [0, 1, 2, 3, 4],
      yMinor: [0.5, 1.5, 2.5, 3.5],
      xFmt: one,
      gray: cGray,
      up: cUp,
      down: cDown,
      genes: cGenes,
      nudge: cNudge,
    },
    {
      frame: { left: 445, right: 733, top: 469, bottom: 821 },
      xDomain: [-3.72, 3.71],
      yDomain: [-0.151, 3.387],
      xTicks: [-2, 0, 2],
      xMinor: [-3, -1, 1, 3],
      yTicks: [0, 1, 2, 3],
      yMinor: [0.5, 1.5, 2.5],
      xFmt: int,
      gray: dGray,
      up: dUp,
      down: dDown,
      genes: dGenes,
      nudge: dNudge,
      legend: { x: 752, y: 609 },
    },
  ];
  const letters: [string, number, number][] = [
    ["A", 40, 37],
    ["B", 423, 37],
    ["C", 39, 462],
    ["D", 421, 462],
  ];
  return (
    <svg width={W} height={H} style={{ position: "absolute", left: 0, top: 0, background: "#fff" }}>
      <rect width={W} height={H} fill="#fff" />
      <Venn />
      {panels.map((p, i) => (
        <Volcano key={i} p={p} />
      ))}
      {letters.map(([t, lx, ly]) => (
        <text key={t} x={lx} y={ly} fontFamily={SANS} fontSize={18} textAnchor="middle" dominantBaseline="central">
          {t}
        </text>
      ))}
    </svg>
  );
}
